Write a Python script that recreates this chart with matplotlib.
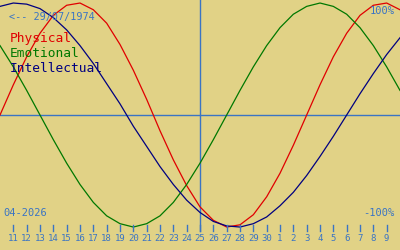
import matplotlib
matplotlib.use('Agg')
import matplotlib.pyplot as plt

# ── Data ──────────────────────────────────────────────
# day offset from 25/04/2026, -15 .. +15
days = list(range(-15, 16))
physical = [0.00, 0.27, 0.52, 0.73, 0.89, 0.98, 1.00, 0.94, 0.82, 0.63, 0.40,
            0.14, -0.14, -0.40, -0.63, -0.82, -0.94, -1.00, -0.98, -0.89, -0.73,
            -0.52, -0.27, 0.00, 0.27, 0.52, 0.73, 0.89, 0.98, 1.00, 0.94]
emotional = [0.62, 0.43, 0.22, 0.00, -0.22, -0.43, -0.62, -0.78, -0.90, -0.97, -1.00,
             -0.97, -0.90, -0.78, -0.62, -0.43, -0.22, 0.00, 0.22, 0.43, 0.62,
             0.78, 0.90, 0.97, 1.00, 0.97, 0.90, 0.78, 0.62, 0.43, 0.22]
intellectual = [0.97, 1.00, 0.99, 0.95, 0.87, 0.76, 0.62, 0.46, 0.28, 0.10, -0.10,
                -0.28, -0.46, -0.62, -0.76, -0.87, -0.95, -0.99, -1.00, -0.97, -0.91,
                -0.81, -0.69, -0.54, -0.37, -0.19, 0.00, 0.19, 0.37, 0.54, 0.69]
tick_days = list(range(-14, 15))
tick_labels = [str(d) for d in range(11, 31)] + [str(d) for d in range(1, 10)]

BG = '#e1d286'
TXT = '#3a74c4'
RED = '#e00000'
GREEN = '#007800'
NAVY = '#000080'
MONO = 'DejaVu Sans Mono'

fig = plt.figure(figsize=(4, 2.5), dpi=100, facecolor=BG)
ax = fig.add_axes([0, 0, 1, 1])
ax.set_facecolor(BG)
ax.set_xlim(-15, 15)
ax.set_ylim(-1.205, 1.027)
ax.axis('off')

# axes lines
ax.axhline(0, color=TXT, lw=1.0)
ax.plot([0, 0], [-1.036, 1.1], color=TXT, lw=1.0)

ax.plot(days, physical, color=RED, lw=0.9)
ax.plot(days, emotional, color=GREEN, lw=0.9)
ax.plot(days, intellectual, color=NAVY, lw=0.9)

# day ticks
for d in tick_days:
    ax.plot([d, d], [-0.982, -1.036], color=TXT, lw=1.0)
for d, lab in zip(tick_days, tick_labels):
    ax.text(d, -1.098, lab, color=TXT, fontsize=6.5, family=MONO,
            ha='center', va='center')

# labels
ax.text(-14.3, 0.875, '<-- 29/07/1974', color=TXT, fontsize=7.3, family=MONO,
        va='center', ha='left')
ax.text(-14.3, 0.685, 'Physical', color=RED, fontsize=9.3, family=MONO, va='center')
ax.text(-14.3, 0.55, 'Emotional', color=GREEN, fontsize=9.3, family=MONO, va='center')
ax.text(-14.3, 0.415, 'Intellectual', color=NAVY, fontsize=9.3, family=MONO, va='center')
ax.text(14.6, 0.925, '100%', color=TXT, fontsize=7.5, family=MONO, ha='right', va='center')
ax.text(14.6, -0.875, '-100%', color=TXT, fontsize=7.5, family=MONO, ha='right', va='center')
ax.text(-14.75, -0.875, '04-2026', color=TXT, fontsize=7.5, family=MONO, ha='left', va='center')

plt.savefig('out.png', dpi=100, facecolor=BG)
plt.close()
